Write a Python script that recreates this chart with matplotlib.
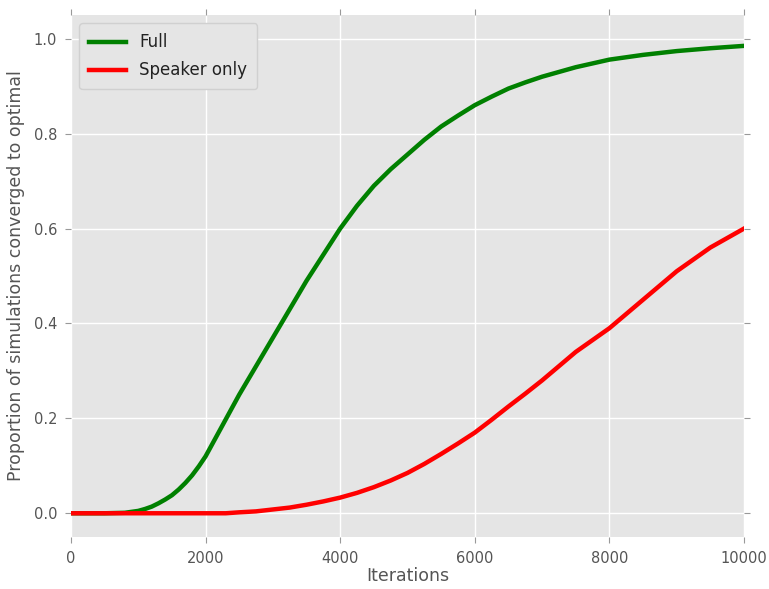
import matplotlib
matplotlib.use("Agg")
import matplotlib.pyplot as plt

iterations = [0, 500, 800, 1000, 1100, 1200, 1300, 1400, 1500, 1600, 1700, 1800, 1900, 2000, 2250, 2500,
              2750, 3000, 3250, 3500, 3750, 4000, 4250, 4500, 4750, 5000, 5250, 5500, 5750, 6000, 6250,
              6500, 6750, 7000, 7500, 8000, 8500, 9000, 9500, 10000]
full = [0.0, 0.0, 0.001, 0.005, 0.009, 0.014, 0.021, 0.029, 0.038, 0.05, 0.064, 0.08, 0.099, 0.12, 0.185,
        0.25, 0.31, 0.37, 0.43, 0.49, 0.545, 0.60, 0.648, 0.69, 0.725, 0.756, 0.787, 0.815, 0.838, 0.86,
        0.878, 0.895, 0.908, 0.92, 0.94, 0.956, 0.966, 0.974, 0.98, 0.985]

iterations_sp = [0, 1000, 2000, 2300, 2500, 2750, 3000, 3250, 3500, 3750, 4000, 4250, 4500, 4750, 5000,
                 5250, 5500, 5750, 6000, 6250, 6500, 6750, 7000, 7250, 7500, 7750, 8000, 8500, 9000, 9500, 10000]
speaker = [0.0, 0.0, 0.0, 0.0, 0.002, 0.004, 0.008, 0.012, 0.018, 0.025, 0.033, 0.043, 0.055, 0.069, 0.085,
           0.104, 0.125, 0.147, 0.17, 0.197, 0.225, 0.252, 0.28, 0.31, 0.34, 0.365, 0.39, 0.45, 0.51, 0.56, 0.60]

xticks = [0, 2000, 4000, 6000, 8000, 10000]
yticks = [0.0, 0.2, 0.4, 0.6, 0.8, 1.0]

fig = plt.figure(figsize=(7.69, 5.89), dpi=100)
ax = fig.add_axes([0.0923, 0.0883, 0.8752, 0.8862])
ax.set_facecolor("#E5E5E5")
for s in ax.spines.values():
    s.set_visible(False)
ax.grid(True, color="white", linewidth=1.0)
ax.set_axisbelow(True)

ax.plot(iterations, full, color="green", linewidth=3.2, label="Full")
ax.plot(iterations_sp, speaker, color="red", linewidth=3.2, label="Speaker only")

ax.set_xlim(0, 10000)
ax.set_ylim(-0.05, 1.05)
ax.set_xticks(xticks)
ax.set_yticks(yticks)
ax.set_xticklabels([str(t) for t in xticks])
ax.set_yticklabels([f"{t:.1f}" for t in yticks])
ax.tick_params(axis="both", direction="out", colors="#999999", labelcolor="#555555", labelsize=10.5,
               length=4, width=0.8, top=True, right=True, labeltop=False, labelright=False, pad=6)

ax.set_xlabel("Iterations", fontsize=12.5, color="#555555", labelpad=1)
ax.set_ylabel("Proportion of simulations converged to optimal", fontsize=12.5, color="#555555", labelpad=6)

leg = ax.legend(loc="upper left", fontsize=12, frameon=True, handlelength=2.2, borderpad=0.6,
                labelspacing=0.6)
leg.get_frame().set_facecolor("#E5E5E5")
leg.get_frame().set_edgecolor("#D0D0D0")
leg.get_frame().set_alpha(1.0)
for t in leg.get_texts():
    t.set_color("#222222")

fig.savefig("out.png", dpi=100)
